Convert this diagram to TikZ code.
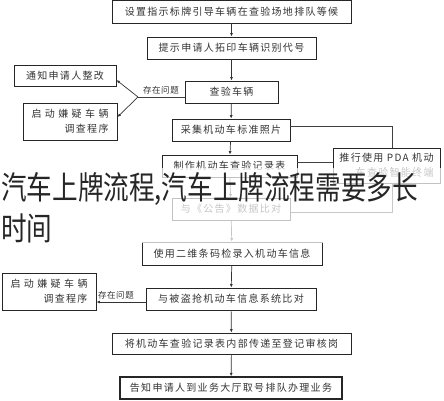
\documentclass[tikz,border=0pt]{standalone}
\usepackage{fontspec}
\usepackage{graphicx}
\newfontfamily\cjk[LetterSpace=13]{Noto Sans CJK SC}
\newfontfamily\cjklab[LetterSpace=6]{Noto Sans CJK SC}
\newfontfamily\cjktitle{Noto Sans CJK SC}
\usetikzlibrary{arrows.meta}
\begin{document}
\begin{tikzpicture}[x=1pt,y=-1pt,
  box/.style={draw=black!85, line width=0.9pt, inner sep=0pt, align=center,
    font=\cjk\fontsize{10}{15}\selectfont, text=black!80},
  arr/.style={-{Latex[length=3.5pt,width=3pt]}, line width=0.7pt, draw=black!80},
  ln/.style={line width=0.7pt, draw=black!75},
  lab/.style={font=\cjklab\fontsize{8.5}{10}\selectfont, inner sep=0pt, text=black!80},
  ttl/.style={font=\cjktitle\fontsize{32}{32}\selectfont, inner sep=0pt, anchor=west, text=black!85}]
\useasboundingbox (0,0) rectangle (444,400);

% main column
\node[box, minimum width=239pt, minimum height=23pt] (b1) at (231.5,11.5) {设置指示标牌引导车辆在查验场地排队等候};
\node[box, minimum width=169pt, minimum height=22pt] (b2) at (231.5,48) {提示申请人拓印车辆识别代号};
\node[box, minimum width=93pt, minimum height=22pt] (b3) at (231.5,92) {查验车辆};
\node[box, minimum width=118pt, minimum height=22pt] (b4) at (231,130) {采集机动车标准照片};
\node[box, minimum width=135pt, minimum height=22pt] (b5) at (229.5,166) {制作机动车查验记录表};
\node[box, minimum width=118pt, minimum height=22pt] (b6) at (231,209) {与《公告》数据比对};
\node[box, minimum width=180pt, minimum height=23pt] (b7) at (232,253.5) {使用二维条码检录入机动车信息};
\node[box, minimum width=170pt, minimum height=22pt] (b8) at (231,299) {与被盗抢机动车信息系统比对};
\node[box, minimum width=239pt, minimum height=21pt] (b9) at (231.5,343.5) {将机动车查验记录表内部传递至登记审核岗};
\node[box, line width=1.2pt, minimum width=222pt, minimum height=22pt] (b10) at (231,388) {告知申请人到业务大厅取号排队办理业务};

% side boxes
\node[box, minimum width=102pt, minimum height=21pt] (l1) at (65,75.5) {通知申请人整改};
\node[box, minimum width=94pt, minimum height=37pt] (l2) at (70,121.5)
  {\begin{tabular}{@{}r@{}}\makebox[77pt][s]{启\hfill 动\hfill 嫌\hfill 疑\hfill 车\hfill 辆}\\调查程序\end{tabular}};
\node[box, minimum width=94pt, minimum height=37pt] (l3) at (49,291.5)
  {\begin{tabular}{@{}r@{}}\makebox[77pt][s]{启\hfill 动\hfill 嫌\hfill 疑\hfill 车\hfill 辆}\\调查程序\end{tabular}};
\node[box, minimum width=107pt, minimum height=35pt] (pda) at (386.5,165.5)
  {\begin{tabular}{@{}r@{}}推行使用 PDA 机动\\车查验智能终端\end{tabular}};

% connectors in the column
\draw[arr] (b1) -- (b2);
\draw[arr] (b2) -- (b3);
\draw[arr] (b3) -- (b4);
\draw[arr] (b4) -- (b5);
\draw[arr] (b5) -- (b6);
\draw[arr] (b6) -- (b7);
\draw[arr] (b7) -- (b8);
\draw[arr] (b8) -- (b9);
\draw[arr] (b9) -- (b10);

% problem branch at the top
\coordinate (br1) at (138,97);
\draw[ln] ([yshift=-5pt]b3.west) -- (br1);
\draw[arr] (br1) -- ([yshift=-4.5pt]l1.east);
\draw[arr] (br1) -- ([yshift=4.5pt]l2.east);
\node[lab] (q1) at (161,90) {存在问题};

% problem branch at the bottom
\coordinate (br2) at ([yshift=-3pt]b8.west);
\draw[arr] (br2) -- (l3.east |- br2);
\node[lab] (q2) at (116,295) {存在问题};

% PDA links
\draw[ln] ([yshift=4pt]b4.east) -| ([xshift=5.5pt]pda.north);
\coordinate (p1) at ([yshift=3.5pt]pda.west);
\draw[ln] (p1) -- (b5.east |- p1);
\draw[ln] ([xshift=5.5pt]pda.south) |- ([yshift=-3pt]b6.east);

% overlay band and title
\fill[white, opacity=0.72] (0,168) rectangle (444,243);
\node[ttl] (t1) at (1,189.5) {\scalebox{0.8}[1]{汽车上牌流程,汽车上牌流程需要多长}};
\node[ttl] (t2) at (1,228) {\scalebox{0.8}[1]{时间}};
\end{tikzpicture}
\end{document}
